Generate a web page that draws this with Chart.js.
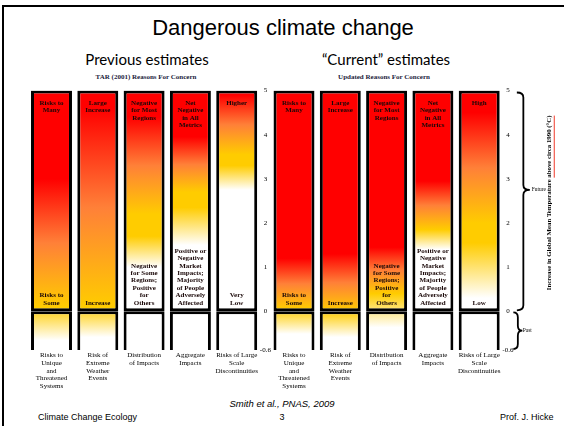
<!DOCTYPE html>
<html lang="en">
<head>
<meta charset="UTF-8">
<title>Dangerous climate change</title>
<script src="https://cdn.jsdelivr.net/npm/chart.js"></script>
<style>
  html, body { margin: 0; padding: 0; background: #fff; }
  body { width: 564px; height: 426px; position: relative; overflow: hidden; font-family: "Liberation Sans", Arial, sans-serif; }
  .frame { position: absolute; left: 2px; top: 5px; width: 700px; height: 600px; border-top: 2px solid #000; border-left: 2px solid #000; }
  .t { position: absolute; white-space: nowrap; line-height: 1; }
  .c { transform: translateX(-50%); }
  .sub { font-family: Lato, "Open Sans", sans-serif; font-size: 15px; }
  .rfc { font-family: "Liberation Serif", serif; font-weight: bold; font-size: 7px; color: #1c1c3c; }
  canvas { position: absolute; top: 0; }
</style>
</head>
<body>
<div class="frame"></div>
<div class="t c" style="left:283px; top:17px; font-size:22px;">Dangerous climate change</div>
<div class="t c sub" style="left:147px; top:52px;">Previous estimates</div>
<div class="t c sub" style="left:386px; top:52px;">“Current” estimates</div>
<div class="t c rfc" style="left:146px; top:73.5px;">TAR (2001) Reasons For Concern</div>
<div class="t c rfc" style="left:384px; top:73.5px;">Updated Reasons For Concern</div>
<div class="t c" style="left:282px; top:398.5px; font-size:9.5px; font-style:italic;">Smith et al., PNAS, 2009</div>
<div class="t" style="left:38px; top:412.5px; font-size:9px;">Climate Change Ecology</div>
<div class="t c" style="left:282px; top:412.5px; font-size:9px;">3</div>
<div class="t" style="left:500px; top:412.5px; font-size:9px;">Prof. J. Hicke</div>

<canvas id="tarChart" width="282" height="426" style="left:0"></canvas>
<canvas id="rfcChart" width="304" height="426" style="left:260px"></canvas>

<script>
// categories (bottom labels), same for both panels
const categories = [
    ['Risks to', 'Unique', 'and', 'Threatened', 'Systems'],
    ['Risk of', 'Extreme', 'Weather', 'Events'],
    ['Distribution', 'of Impacts'],
    ['Aggregate', 'Impacts'],
    ['Risks of Large', 'Scale', 'Discontinuities']
];
const tempTicks = [-0.6, 0, 1, 2, 3, 4, 5];   // °C above circa 1990
const futureRange = [0, 5];
const pastRange = [-0.6, 0];

// labels written inside the embers
const tarHighLabels = [['Risks to', 'Many'], ['Large', 'Increase'], ['Negative', 'for Most', 'Regions'], ['Net', 'Negative', 'in All', 'Metrics'], ['Higher']];
const tarLowLabels = [['Risks to', 'Some'], ['Increase'], ['Negative', 'for Some', 'Regions;', 'Positive', 'for', 'Others'],
    ['Positive or', 'Negative', 'Market', 'Impacts;', 'Majority', 'of People', 'Adversely', 'Affected'], ['Very', 'Low']];
const rfcHighLabels = [['Risks to', 'Many'], ['Large', 'Increase'], ['Negative', 'for Most', 'Regions'], ['Net', 'Negative', 'in All', 'Metrics'], ['High']];
const rfcLowLabels = [['Risks to', 'Some'], ['Increase'], ['Negative', 'for Some', 'Regions;', 'Positive', 'for', 'Others'],
    ['Positive or', 'Negative', 'Market', 'Impacts;', 'Majority', 'of People', 'Adversely', 'Affected'], ['Low']];

// ember levels (°C): white below, yellow from..to, full red from
const tarWhiteBelow = [-0.45, -0.4, 1.0, 1.5, 2.75];
const tarYellowFrom = [0.1, 0.1, 1.7, 2.35, 3.3];
const tarYellowTo   = [0.1, 0.1, 2.2, 2.7, 3.55];
const tarRedFrom    = [3.0, 4.6, 4.4, 3.95, 4.9];

const rfcWhiteBelow = [-0.35, -0.4, -0.25, 1.4, 0.3];
const rfcYellowFrom = [0.05, 0.0, 0.4, 1.85, 1.55];
const rfcYellowTo   = [0.05, 0.0, 0.4, 1.85, 2.0];
const rfcRedFrom    = [1.2, 1.3, 1.45, 2.95, 4.5];

const RED = '#ff0000', ORANGE = '#ff8038', YELLOW = '#ffcc00', WHITE = '#ffffff';
const SERIF = '"Liberation Serif", "Times New Roman", serif';
const PAST_SHARE = 0.149;   // the "past" box is drawn taller than its 0.6 °C

// linear scale, but the part below 0 gets its own stretch
class EmberScale extends Chart.LinearScale {
    getPixelForValue(value) {
        const zero = this.bottom - (this.bottom - this.top) * PAST_SHARE;
        if (value >= 0) return zero - (zero - this.top) * value / this.max;
        return zero + (this.bottom - zero) * value / this.min;
    }
    getValueForPixel(pixel) {
        const zero = this.bottom - (this.bottom - this.top) * PAST_SHARE;
        if (pixel <= zero) return (zero - pixel) / (zero - this.top) * this.max;
        return (pixel - zero) / (this.bottom - zero) * this.min;
    }
}
EmberScale.id = 'ember';
EmberScale.defaults = Chart.LinearScale.defaults;
Chart.register(EmberScale);

function emberFill(chart, white, yFrom, yTo, red) {
    const y = chart.scales.y;
    const lo = tempTicks[0], hi = tempTicks[tempTicks.length - 1];
    const bottom = y.getPixelForValue(lo), top = y.getPixelForValue(hi);
    const at = v => (bottom - y.getPixelForValue(Math.max(lo, Math.min(hi, v)))) / (bottom - top);
    const g = chart.ctx.createLinearGradient(0, bottom, 0, top);
    g.addColorStop(0, WHITE);
    g.addColorStop(at(white), WHITE);
    g.addColorStop(at(yFrom), YELLOW);
    g.addColorStop(at(yTo), YELLOW);
    g.addColorStop(at((yTo + red) / 2), ORANGE);
    g.addColorStop(at(red), RED);
    g.addColorStop(1, RED);
    return g;
}

// text inside each ember
const emberText = {
    id: 'emberText',
    afterDatasetsDraw(chart, args, opts) {
        const ctx = chart.ctx, y = chart.scales.y;
        const bars = chart.getDatasetMeta(0).data;
        ctx.save();
        ctx.font = 'bold 7px ' + SERIF;
        ctx.fillStyle = '#1a0808';
        ctx.textAlign = 'center';
        ctx.textBaseline = 'middle';
        bars.forEach((bar, i) => {
            const top = y.getPixelForValue(futureRange[1]) + 12.5;
            opts.high[i].forEach((s, k) => ctx.fillText(s, bar.x, top + k * 7.5));
            const low = opts.low[i];
            const last = y.getPixelForValue(futureRange[0]) - 8.3;
            low.forEach((s, k) => ctx.fillText(s, bar.x, last - (low.length - 1 - k) * 7.45));
        });
        ctx.restore();
    }
};

// braces, Future / Past and the axis title of the right panel
function brace(ctx, x, y0, y1, tipY, w) {
    const r = Math.min(5, (y1 - y0) / 6);
    ctx.beginPath();
    ctx.moveTo(x - w, y0);
    ctx.quadraticCurveTo(x, y0, x, y0 + r);
    ctx.lineTo(x, tipY - r);
    ctx.quadraticCurveTo(x, tipY, x + w, tipY);
    ctx.quadraticCurveTo(x, tipY, x, tipY + r);
    ctx.lineTo(x, y1 - r);
    ctx.quadraticCurveTo(x, y1, x - w, y1);
    ctx.stroke();
}

const sideNotes = {
    id: 'sideNotes',
    afterDraw(chart) {
        const ctx = chart.ctx, y = chart.scales.y, right = chart.chartArea.right;
        const p5 = y.getPixelForValue(5), p0 = y.getPixelForValue(0), pm = y.getPixelForValue(-0.6);
        ctx.save();
        ctx.strokeStyle = '#000';
        ctx.lineWidth = 1.8;
        brace(ctx, right + 21, p5 + 2, p0 - 1, y.getPixelForValue(2.75), 6.5);
        brace(ctx, right + 15.5, p0 + 1, pm - 1, y.getPixelForValue(-0.3), 4.5);
        ctx.fillStyle = '#000';
        ctx.font = '5.4px ' + SERIF;
        ctx.textBaseline = 'middle';
        ctx.fillText('Future', right + 29.5, y.getPixelForValue(2.75));
        ctx.fillText('Past', right + 20.5, y.getPixelForValue(-0.3));

        const title = 'Increase in Global Mean Temperature above circa 1990 (°C)';
        const tail = 'above circa 1990 (°C)';
        ctx.font = 'bold 6.8px ' + SERIF;
        const cx = right + 46.7, cy = (p5 + p0) / 2 + 2;
        const w = ctx.measureText(title).width, wt = ctx.measureText(tail).width;
        ctx.translate(cx, cy);
        ctx.rotate(-Math.PI / 2);
        ctx.textAlign = 'center';
        ctx.fillText(title, 0, 0);
        ctx.strokeStyle = '#f03a2a';
        ctx.lineWidth = 1;
        ctx.beginPath();
        ctx.moveTo(w / 2 - wt, 5.2);
        ctx.lineTo(w / 2, 5.2);
        ctx.stroke();
        ctx.restore();
    }
};

function drawEmbers(id, padding, levels, high, low, extra) {
    const [white, yFrom, yTo, red] = levels;
    const fill = ctx => {
        if (ctx.type !== 'data' || !ctx.chart.chartArea) return RED;
        const i = ctx.dataIndex;
        return emberFill(ctx.chart, white[i], yFrom[i], yTo[i], red[i]);
    };
    const common = {
        backgroundColor: fill,
        borderColor: '#000',
        borderWidth: 3,
        grouped: false,
        barPercentage: 0.885,
        categoryPercentage: 1
    };
    const config = {
        type: 'bar',
        data: {
            labels: categories,
            datasets: [
                Object.assign({ label: 'Future', data: categories.map(() => futureRange), borderSkipped: false }, common),
                Object.assign({ label: 'Past', data: categories.map(() => pastRange), borderSkipped: 'top' }, common)
            ]
        },
        options: {
            responsive: false,
            animation: false,
            events: [],
            layout: { padding: padding },
            plugins: {
                legend: { display: false },
                tooltip: { enabled: false },
                emberText: { high: high, low: low }
            },
            scales: {
                x: {
                    grid: { display: false, drawTicks: false },
                    border: { display: false },
                    afterFit: s => { s.height = 50; },
                    ticks: {
                        autoSkip: false, maxRotation: 0, minRotation: 0, padding: 1.5,
                        color: '#000', font: { family: SERIF, size: 7, lineHeight: 1.1 }
                    }
                },
                y: {
                    type: 'ember',
                    position: 'right',
                    min: tempTicks[0],
                    max: tempTicks[tempTicks.length - 1],
                    grid: { display: false, drawTicks: false },
                    border: { display: false },
                    afterFit: s => { s.width = 20; },
                    afterBuildTicks: s => { s.ticks = tempTicks.map(v => ({ value: v })); },
                    ticks: {
                        padding: 0, crossAlign: 'center', color: '#000',
                        font: { family: SERIF, size: 7 },
                        callback: v => String(v)
                    }
                }
            }
        },
        plugins: [emberText].concat(extra)
    };
    return new Chart(document.getElementById(id), config);
}

drawEmbers('tarChart', { left: 28.35, right: 2.15, top: 90.5, bottom: 26 },
    [tarWhiteBelow, tarYellowFrom, tarYellowTo, tarRedFrom], tarHighLabels, tarLowLabels, []);
drawEmbers('rfcChart', { left: 10.85, right: 41.65, top: 90.5, bottom: 26 },
    [rfcWhiteBelow, rfcYellowFrom, rfcYellowTo, rfcRedFrom], rfcHighLabels, rfcLowLabels, [sideNotes]);
</script>
</body>
</html>
